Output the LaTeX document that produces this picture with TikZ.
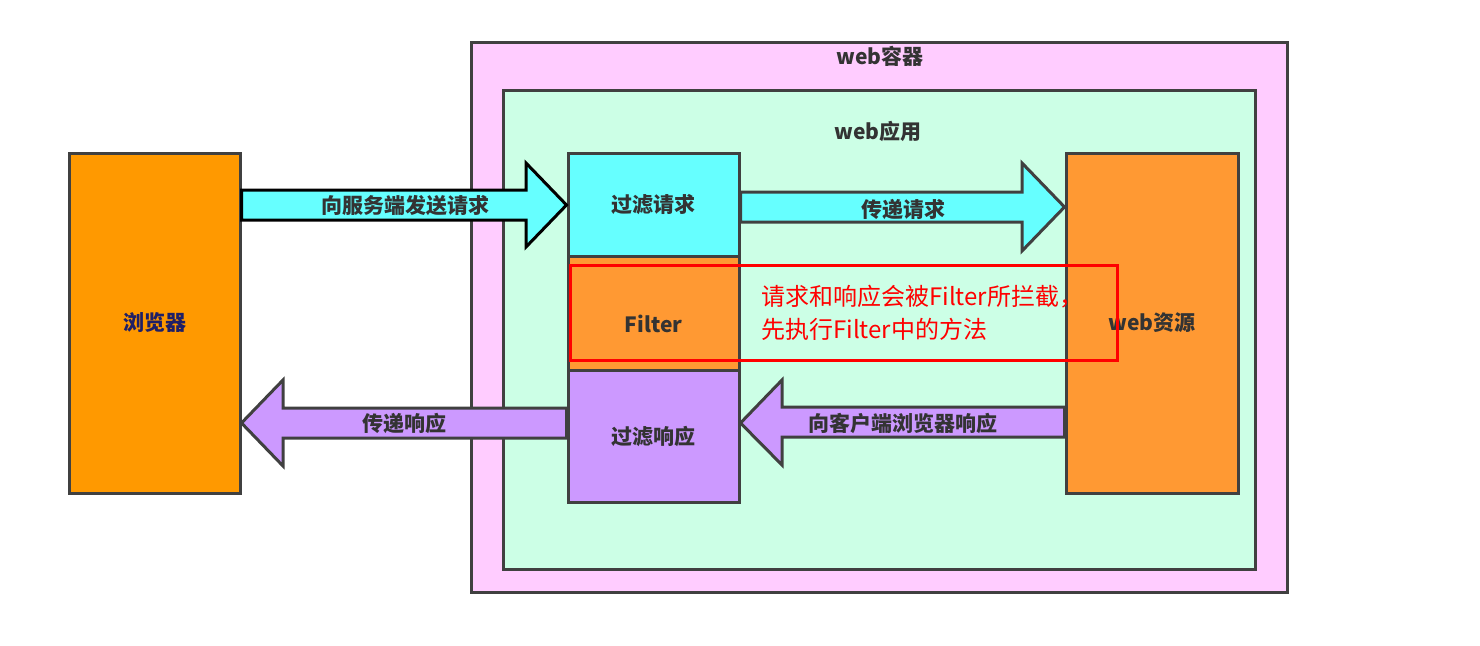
\documentclass[tikz,border=0pt]{standalone}
\usepackage{fontspec}
\setmainfont{Noto Sans CJK SC}
\usetikzlibrary{positioning}
\definecolor{boxline}{HTML}{404040}
\definecolor{labelgray}{HTML}{333333}
\definecolor{browsertext}{HTML}{1F1F66}
\definecolor{containerpink}{HTML}{FFCCFF}
\definecolor{appmint}{HTML}{CCFFE6}
\definecolor{browserorange}{HTML}{FF9900}
\definecolor{filterorange}{HTML}{FF9933}
\definecolor{reqcyan}{HTML}{66FFFF}
\definecolor{resppurple}{HTML}{CC99FF}
\tikzset{
  box/.style={draw=boxline, line width=3, rectangle, inner sep=0pt,
    font=\bfseries\fontsize{21}{25}\selectfont, text=labelgray},
  title/.style={font=\bfseries\fontsize{21}{25}\selectfont, text=labelgray, inner sep=0pt},
  blockarrow/.style={draw=boxline, line width=3, line join=miter},
  notebox/.style={draw=red, line width=3, rectangle, inner sep=0pt},
  notetext/.style={font=\fontsize{24}{33}\selectfont, text=red, align=left, inner sep=0pt}
}
\begin{document}
\begin{tikzpicture}[x=1pt, y=-1pt]
      \useasboundingbox (0,0) rectangle (1480,645);
      % containers
      \node (Container) [box, fill=containerpink, minimum width=816, minimum height=550] at (879,317) {};
      \node (ContainerLabel) [title] at (880,56) {web容器};
      \node (App) [box, fill=appmint, minimum width=752, minimum height=479] at (879,329.5) {};
      \node (AppLabel) [title] at (878,131) {web应用};
      % boxes
      \node (Browser) [box, fill=browserorange, text=browsertext, minimum width=171, minimum height=340] at (154.5,323) {
         浏览器
      };
      \node (FilterReq) [box, fill=reqcyan, minimum width=171, minimum height=103] at (653.5,204.5) {
         过滤请求
      };
      \node (Filter) [box, fill=filterorange, minimum width=171, minimum height=114] at (653.5,313) {};
      \node (FilterLabel) [title] at ([yshift=-11]Filter.center) {Filter};
      \node (FilterResp) [box, fill=resppurple, minimum width=171, minimum height=132] at (653.5,436) {
         过滤响应
      };
      \node (Resource) [box, fill=filterorange, minimum width=172, minimum height=340] at (1152,323) {
         web资源
      };
      % block arrows
      \draw[blockarrow, draw=black, fill=reqcyan] (Browser.east |- 0,190) -- (526,190) -- (526,163)
         -- (FilterReq.west |- 0,205) -- (526,247) -- (526,220) -- (Browser.east |- 0,220) -- cycle;
      \draw[blockarrow, fill=reqcyan] (FilterReq.east |- 0,192) -- (1022,192) -- (1022,163)
         -- (Resource.west |- 0,207) -- (1022,251) -- (1022,222) -- (FilterReq.east |- 0,222) -- cycle;
      \draw[blockarrow, fill=resppurple] (FilterResp.west |- 0,408) -- (283,408) -- (283,380)
         -- (Browser.east |- 0,423) -- (283,466) -- (283,438) -- (FilterResp.west |- 0,438) -- cycle;
      \draw[blockarrow, fill=resppurple] (Resource.west |- 0,407) -- (782,407) -- (782,380)
         -- (FilterResp.east |- 0,423) -- (782,465) -- (782,437) -- (Resource.west |- 0,437) -- cycle;
      \node (SendLabel) [title] at (405,206) {向服务端发送请求};
      \node (PassReqLabel) [title] at (903,209) {传递请求};
      \node (PassRespLabel) [title] at (404,423) {传递响应};
      \node (RespondLabel) [title] at (903,423) {向客户端浏览器响应};
      % note
      \node (Note) [notebox, minimum width=547, minimum height=95] at (843.5,312.5) {};
      \node (NoteText) [notetext, anchor=west] at (761,313) {请求和响应会被Filter所拦截，\\先执行Filter中的方法};
\end{tikzpicture}
\end{document}
